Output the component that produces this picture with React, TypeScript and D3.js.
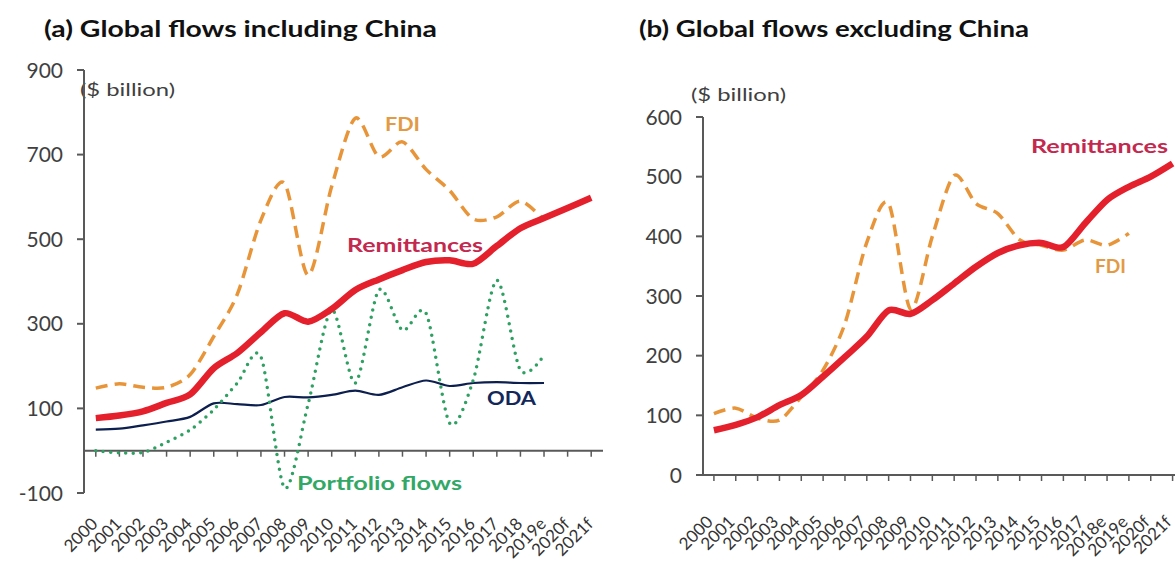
import React from 'react';
import * as d3 from 'd3';

// categories
const yearsA = ['2000', '2001', '2002', '2003', '2004', '2005', '2006', '2007', '2008', '2009', '2010',
  '2011', '2012', '2013', '2014', '2015', '2016', '2017', '2018', '2019e', '2020f', '2021f'];
const yearsB = ['2000', '2001', '2002', '2003', '2004', '2005', '2006', '2007', '2008', '2009', '2010',
  '2011', '2012', '2013', '2014', '2015', '2016', '2017', '2018e', '2019e', '2020f', '2021f'];

// (a) including China, $ billion
const remitA = [77, 83, 93, 113, 133, 195, 231, 280, 325, 305, 335, 380, 405, 427, 446, 450, 442, 484, 526, 550, 574, 598];
const fdiA = [148, 158, 150, 150, 180, 270, 370, 545, 632, 415, 625, 786, 695, 730, 665, 615, 548, 553, 590, 545];
const odaA = [50, 52, 60, 69, 80, 112, 110, 108, 127, 126, 132, 142, 132, 150, 166, 153, 160, 162, 160, 160];
const portA = [0, -5, -4, 20, 49, 97, 160, 222, -88, 110, 333, 160, 380, 285, 325, 65, 167, 403, 190, 226];

// (b) excluding China, $ billion
const remitB = [75, 84, 97, 117, 134, 165, 198, 232, 276, 270, 293, 321, 349, 372, 385, 389, 382, 422, 461, 483, 500, 522];
const fdiB = [103, 112, 95, 92, 131, 176, 254, 390, 455, 278, 400, 502, 455, 438, 394, 385, 377, 394, 385, 405];

const ticksA = [-100, 100, 300, 500, 700, 900];
const ticksB = [0, 100, 200, 300, 400, 500, 600];

const FONT = 'Lato, "Open Sans", sans-serif';
const AXIS = '#595959';

type Series = {
  values: number[];
  color: string;
  width: number;
  dash?: string;
  cap?: string;
};

type Label = { text: string; x: number; y: number; w: number; color: string };

type PanelProps = {
  title: string;
  titleX: number;
  titleW: number;
  cats: string[];
  domain: [number, number];
  ticks: number[];
  x0: number;
  x1: number;
  yTop: number;
  yBottom: number;
  unitX: number;
  unitY: number;
  labelY: number;
  labelDx: number;
  series: Series[];
  labels: Label[];
};

const Panel: React.FC<PanelProps> = (p) => {
  const x = d3.scaleBand<string>().domain(p.cats).range([p.x0, p.x1]);
  const cx = (i: number) => (x(p.cats[i]) ?? 0) + x.bandwidth() / 2;
  const y = d3.scaleLinear().domain(p.domain).range([p.yBottom, p.yTop]);
  const y0 = y(0);

  const line = d3.line<number>()
    .x((_, i) => cx(i))
    .y((d) => y(d))
    .curve(d3.curveCardinal.tension(0.15));

  return (
    <g>
      <text x={p.titleX} y={37} fontFamily={FONT} fontWeight={700} fontSize={23} fill="#111"
        textLength={p.titleW} lengthAdjust="spacingAndGlyphs">{p.title}</text>
      <text x={p.unitX} y={p.unitY} fontFamily={FONT} fontSize={18} fill="#404040"
        textLength={95} lengthAdjust="spacingAndGlyphs">($ billion)</text>

      {/* y axis */}
      <line x1={p.x0} x2={p.x0} y1={p.yTop} y2={p.yBottom} stroke={AXIS} strokeWidth={2} />
      {p.ticks.map((t) => (
        <g key={t}>
          <line x1={p.x0 - 7} x2={p.x0} y1={y(t)} y2={y(t)} stroke={AXIS} strokeWidth={2} />
          <text x={p.x0 - 21} y={y(t)} dy="0.36em" textAnchor="end" fontFamily={FONT} fontSize={21} fill="#404040">{t}</text>
        </g>
      ))}

      {/* x axis at zero */}
      <line x1={p.x0} x2={p.x1} y1={y0} y2={y0} stroke={AXIS} strokeWidth={2} />
      {p.cats.map((c, i) => (
        <g key={c}>
          <line x1={cx(i)} x2={cx(i)} y1={y0} y2={y0 + 6} stroke={AXIS} strokeWidth={1.5} />
          <text transform={`translate(${cx(i) + p.labelDx},${p.labelY}) rotate(-45)`} textAnchor="end"
            fontFamily={FONT} fontSize={17} fill="#333">{c}</text>
        </g>
      ))}

      {p.series.map((s, k) => (
        <path key={k} d={line(s.values) ?? ''} fill="none" stroke={s.color} strokeWidth={s.width}
          strokeDasharray={s.dash} strokeLinecap={(s.cap as any) ?? 'butt'} strokeLinejoin="round" />
      ))}

      {p.labels.map((l, k) => (
        <text key={k} x={l.x} y={l.y} fontFamily={FONT} fontWeight={700} fontSize={19} fill={l.color}
          textLength={l.w} lengthAdjust="spacingAndGlyphs">{l.text}</text>
      ))}
    </g>
  );
};

const App: React.FC = () => {
  return (
    <svg width={1175} height={561} viewBox="0 0 1175 561"
      style={{ position: 'absolute', left: 0, top: 0, background: '#fff', display: 'block' }}>
      <rect width={1175} height={561} fill="#fff" />
      <Panel
        title="(a)  Global flows including China"
        titleX={44}
        titleW={393}
        cats={yearsA}
        domain={[-100, 900]}
        ticks={ticksA}
        x0={84}
        x1={603}
        yTop={70}
        yBottom={493}
        unitX={80}
        unitY={96}
        labelY={525}
        labelDx={3}
        series={[
          { values: odaA, color: '#0d1f4f', width: 2.2 },
          { values: portA, color: '#2ea062', width: 3.5, dash: '0 7.5', cap: 'round' },
          { values: fdiA, color: '#e8953a', width: 3.5, dash: '12 7' },
          { values: remitA, color: '#e4202c', width: 6.5 },
        ]}
        labels={[
          { text: 'FDI', x: 385, y: 131, w: 35, color: '#e39a45' },
          { text: 'Remittances', x: 347, y: 252, w: 136, color: '#c3294f' },
          { text: 'ODA', x: 487, y: 405, w: 49, color: '#13285a' },
          { text: 'Portfolio flows', x: 297, y: 490, w: 165, color: '#33a866' },
        ]}
      />
      <Panel
        title="(b) Global flows excluding China"
        titleX={639}
        titleW={390}
        cats={yearsB}
        domain={[0, 600]}
        ticks={ticksB}
        x0={703}
        x1={1183.5}
        yTop={117}
        yBottom={475}
        unitX={691}
        unitY={101}
        labelY={523}
        labelDx={0}
        series={[
          { values: fdiB, color: '#e8953a', width: 3.5, dash: '12 7' },
          { values: remitB, color: '#e4202c', width: 6.5 },
        ]}
        labels={[
          { text: 'Remittances', x: 1031, y: 153, w: 137, color: '#c3294f' },
          { text: 'FDI', x: 1095, y: 273, w: 31, color: '#e39a45' },
        ]}
      />
    </svg>
  );
};

export default App;
